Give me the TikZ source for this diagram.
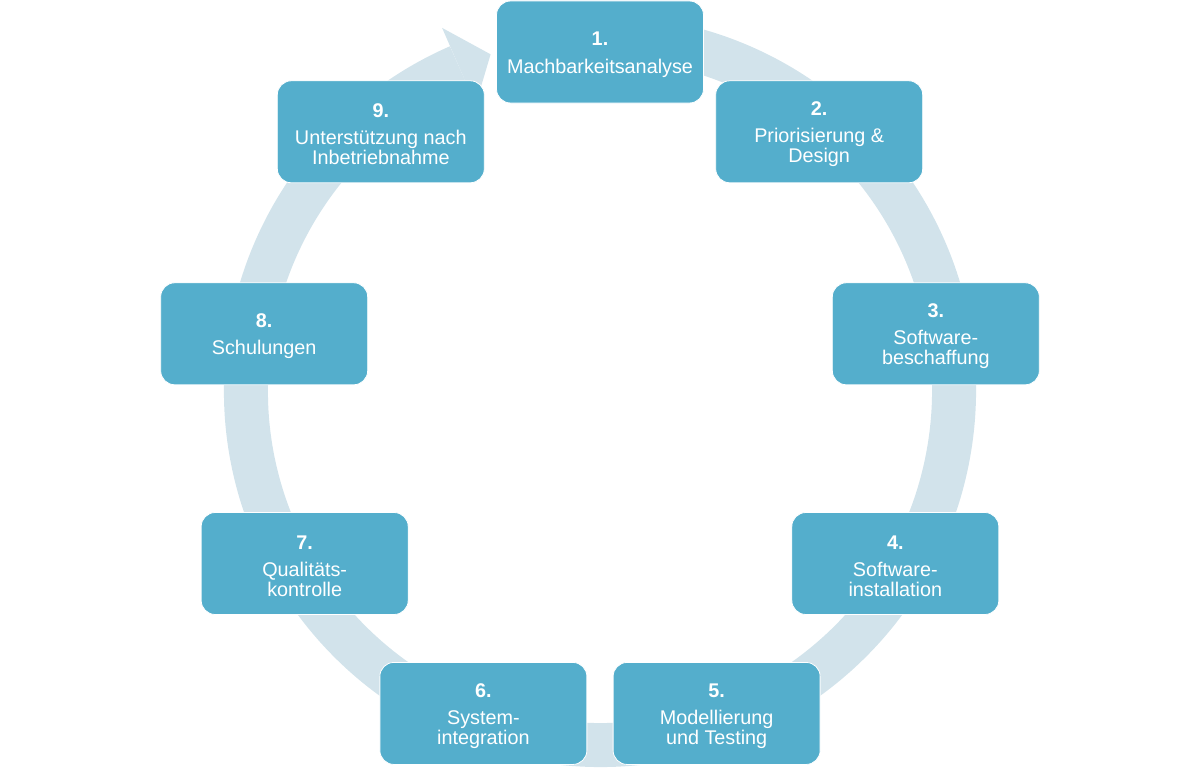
\documentclass[tikz,border=0pt]{standalone}
\usepackage{fontspec}
\setmainfont{Liberation Sans}
\definecolor{kasten}{RGB}{84,174,204}
\definecolor{ringfarbe}{RGB}{210,227,235}
\newcommand{\phasennr}[1]{\rule{0pt}{19pt}\textbf{#1}\\[7.4pt]}
\begin{document}
\begin{tikzpicture}[x=1pt, y=1pt,
		phase/.style={draw=white, line width=0.8pt, fill=kasten, rounded corners=14pt,
			minimum width=207pt, minimum height=102pt, inner sep=0pt, align=center,
			text=white, font=\fontsize{19.8}{20}\selectfont}]
			\useasboundingbox (0,0) rectangle (1200,-768);
			\begin{scope}[shift={(600,-391)}]
			% Kreispfeil
			\draw [ringfarbe, line width=44pt] (80:354) arc [start angle=80, end angle=-246.5, radius=354];
			\fill [ringfarbe] (113.5:396) -- (108:354) -- (113.5:312) -- cycle;
			\end{scope}
			\begin{scope}[shift={(600,-393)}]
			% Phasen im Uhrzeigersinn
			\node [phase] (p1) at (90:341) {\phasennr{1.}Machbarkeitsanalyse};
			\node [phase] (p2) at (50:341) {\phasennr{2.}Priorisierung \&\\Design};
			\node [phase] (p3) at (10:341) {\phasennr{3.}Software-\\beschaffung};
			\node [phase] (p4) at (-30:341) {\phasennr{4.}Software-\\installation};
			\node [phase] (p5) at (-70:341) {\phasennr{5.}Modellierung\\und Testing};
			\node [phase] (p6) at (-110:341) {\phasennr{6.}System-\\integration};
			\node [phase] (p7) at (-150:341) {\phasennr{7.}Qualitäts-\\kontrolle};
			\node [phase] (p8) at (170:341) {\phasennr{8.}Schulungen};
			\node [phase] (p9) at (130:341) {\phasennr{9.}Unterstützung nach\\Inbetriebnahme};
			\end{scope}
		\end{tikzpicture}
\end{document}
